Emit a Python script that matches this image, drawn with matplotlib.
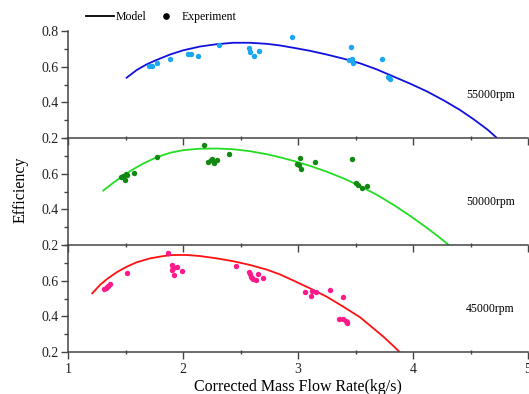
import matplotlib
matplotlib.use('Agg')
import matplotlib.pyplot as plt
from matplotlib.lines import Line2D
from matplotlib.ticker import MultipleLocator, NullFormatter

plt.rcParams['font.family'] = ['Liberation Serif', 'DejaVu Serif']

# ---------------- data ----------------
# 55000 rpm
exp55_x = [1.704, 1.728, 1.771, 1.890, 2.046, 2.067, 2.130, 2.316, 2.577, 2.583,
           2.615, 2.665, 2.948, 3.461, 3.446, 3.467, 3.481, 3.730, 3.785, 3.803]
exp55_y = [0.604, 0.604, 0.619, 0.645, 0.672, 0.672, 0.660, 0.722, 0.704, 0.685,
           0.662, 0.687, 0.768, 0.708, 0.640, 0.642, 0.623, 0.645, 0.541, 0.532]
mod55_x = [1.510, 1.597, 1.684, 1.771, 1.887, 2.003, 2.148, 2.293, 2.437, 2.583,
           2.728, 2.843, 2.959, 3.104, 3.250, 3.394, 3.539, 3.684, 3.800, 3.974,
           4.119, 4.264, 4.409, 4.525, 4.650, 4.730]
mod55_y = [0.538, 0.581, 0.613, 0.638, 0.668, 0.692, 0.713, 0.726, 0.734, 0.734,
           0.728, 0.719, 0.706, 0.689, 0.668, 0.645, 0.619, 0.585, 0.553, 0.505,
           0.462, 0.412, 0.357, 0.306, 0.246, 0.200]

# 50000 rpm
exp50_x = [1.461, 1.481, 1.502, 1.510, 1.496, 1.574, 1.771, 2.183, 2.220, 2.241,
           2.252, 2.270, 2.298, 2.397, 3.015, 2.994, 3.011, 3.023, 3.145, 3.467,
           3.502, 3.519, 3.554, 3.603]
exp50_y = [0.580, 0.587, 0.598, 0.593, 0.563, 0.605, 0.695, 0.761, 0.667, 0.677,
           0.681, 0.658, 0.677, 0.709, 0.690, 0.654, 0.647, 0.625, 0.667, 0.684,
           0.546, 0.536, 0.518, 0.531]
mod50_x = [1.307, 1.394, 1.481, 1.568, 1.655, 1.771, 1.887, 2.003, 2.148, 2.293,
           2.437, 2.583, 2.728, 2.843, 2.959, 3.104, 3.250, 3.394, 3.539, 3.684,
           3.829, 3.974, 4.119, 4.235, 4.310]
mod50_y = [0.505, 0.549, 0.589, 0.625, 0.657, 0.692, 0.717, 0.732, 0.740, 0.741,
           0.737, 0.726, 0.709, 0.692, 0.672, 0.644, 0.611, 0.574, 0.531, 0.482,
           0.426, 0.364, 0.297, 0.240, 0.200]

# 45000 rpm
exp45_x = [1.313, 1.328, 1.337, 1.350, 1.368, 1.510, 1.867, 1.902, 1.910, 1.916,
           1.907, 1.919, 1.945, 1.989, 2.461, 2.577, 2.583, 2.589, 2.597, 2.611,
           2.635, 2.655, 2.698, 3.061, 3.110, 3.124, 3.154, 3.281, 3.389, 3.359,
           3.394, 3.417, 3.429, 3.423]
exp45_y = [0.552, 0.557, 0.566, 0.572, 0.580, 0.645, 0.753, 0.688, 0.678, 0.669,
           0.660, 0.633, 0.675, 0.656, 0.684, 0.650, 0.636, 0.622, 0.613, 0.608,
           0.604, 0.636, 0.613, 0.535, 0.514, 0.544, 0.535, 0.549, 0.508, 0.383,
           0.383, 0.376, 0.370, 0.361]
mod45_x = [1.211, 1.278, 1.337, 1.423, 1.510, 1.597, 1.713, 1.829, 1.916, 2.032,
           2.148, 2.293, 2.437, 2.583, 2.728, 2.843, 2.959, 3.104, 3.250, 3.394,
           3.539, 3.655, 3.742, 3.829, 3.881]
mod45_y = [0.529, 0.576, 0.608, 0.647, 0.678, 0.703, 0.725, 0.738, 0.744, 0.744,
           0.738, 0.725, 0.709, 0.688, 0.662, 0.635, 0.601, 0.557, 0.510, 0.454,
           0.395, 0.333, 0.286, 0.234, 0.202]

speeds = ['55000rpm', '50000rpm', '45000rpm']
line_colors = ['#1010e0', '#22dd22', '#ff1010']
dot_colors = ['#19a6f2', '#118811', '#ff1a8c']

panels = [(exp55_x, exp55_y, mod55_x, mod55_y),
          (exp50_x, exp50_y, mod50_x, mod50_y),
          (exp45_x, exp45_y, mod45_x, mod45_y)]

# ---------------- figure ----------------
fig = plt.figure(figsize=(5.29, 3.94), dpi=100)
left, width = 68 / 529, 460 / 529
bottoms = [1 - 138 / 394, 1 - 245 / 394, 1 - 352 / 394]
h = 107 / 394
spine_c = '#444444'

axes = []
for i, (ex, ey, mx, my) in enumerate(panels):
    ax = fig.add_axes([left, bottoms[i], width, h])
    ax.plot(mx, my, color=line_colors[i], lw=1.3, zorder=2,
            solid_joinstyle='round')
    ax.plot(ex, ey, 'o', color=dot_colors[i], ms=3.9, mec='none', zorder=3)
    ax.set_xlim(1, 5)
    ax.set_ylim(0.2, 0.8)
    ax.set_facecolor('none')
    for s in ['top', 'right']:
        ax.spines[s].set_visible(False)
    for s in ['left', 'bottom']:
        ax.spines[s].set_color(spine_c)
        ax.spines[s].set_linewidth(1.1)
    ax.xaxis.set_major_locator(MultipleLocator(1))
    ax.xaxis.set_minor_locator(MultipleLocator(0.5))
    if i == 0:
        ax.set_yticks([0.2, 0.4, 0.6, 0.8])
    else:
        ax.set_yticks([0.2, 0.4, 0.6])
    ax.yaxis.set_minor_locator(MultipleLocator(0.1))
    ax.tick_params(axis='x', which='major', direction='out', length=5,
                   width=1, color=spine_c, labelsize=10, labelcolor='#222222', pad=3)
    ax.tick_params(axis='x', which='minor', direction='inout', length=3,
                   width=1, color=spine_c)
    ax.tick_params(axis='y', which='major', direction='out', length=5,
                   width=1, color=spine_c, labelsize=10, labelcolor='#222222', pad=2)
    ax.tick_params(axis='y', which='minor', direction='out', length=3,
                   width=1, color=spine_c)
    ax.yaxis.set_major_formatter(plt.FuncFormatter(lambda v, p: f'{v:.1f}'))
    if i < 2:
        ax.xaxis.set_major_formatter(NullFormatter())
    ax.text(4.46, 0.44, speeds[i], fontsize=8.5, ha='left', va='center')
    axes.append(ax)

axes[-1].set_xlabel('Corrected Mass Flow Rate(kg/s)', fontsize=11.5, labelpad=2)
fig.text(0.038, 1 - 190 / 394, 'Efficiency', rotation=90, fontsize=11.5,
         ha='center', va='center')

handles = [Line2D([], [], color='black', lw=1.3),
           Line2D([], [], ls='none', marker='o', color='black', ms=3.8)]
fig.legend(handles, ['Model', 'Experiment'], loc='center left',
           bbox_to_anchor=(86 / 529, 1 - 17 / 394), ncol=2, frameon=False,
           fontsize=8.5, handlelength=2.4, handletextpad=0.15,
           columnspacing=0.4, borderpad=0, borderaxespad=0)

fig.savefig('out.png', dpi=100)
